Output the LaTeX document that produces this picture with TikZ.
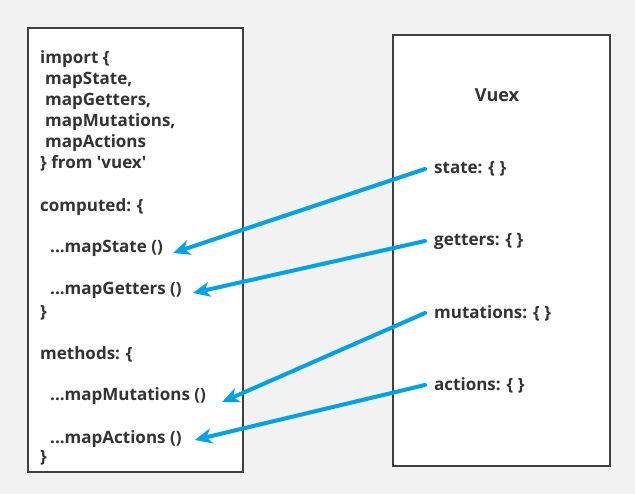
\documentclass[tikz,border=0pt]{standalone}
\usepackage{fontspec}
\setmainfont{Open Sans}
\usepackage{tikz}
\usetikzlibrary{arrows.meta,positioning,calc}
\definecolor{vxblue}{RGB}{0,162,232}
\definecolor{vxgray}{RGB}{242,242,242}
\definecolor{vxtext}{RGB}{51,51,51}
\definecolor{vxline}{RGB}{64,64,64}
\tikzset{
  panel/.style={draw=vxline, line width=2pt, fill=white},
  code/.style={anchor=west, inner sep=0pt, text=vxtext, font=\fontsize{17}{20}\selectfont\bfseries},
  arr/.style={-{Stealth[length=17pt,width=15pt,inset=5pt]}, vxblue, line width=4pt, line cap=round},
}

\begin{document}
\begin{tikzpicture}[x=1pt,y=-1pt]
  \useasboundingbox[fill=vxgray] (0,0) rectangle (635,494);
  % boxes
  \draw[panel] (28,28) rectangle (243,472);
  \draw[panel] (393,35) rectangle (610,466);
  % left: component code
  \node[code] (imp) at (40,59) {import \{};
  \node[code] (ims) at (45,80) {mapState,};
  \node[code] (img) at (45,101) {mapGetters,};
  \node[code] (imm) at (45,122) {mapMutations,};
  \node[code] (ima) at (45,143) {mapActions};
  \node[code] (frm) at (40,163) {\} from \textquotesingle vuex\textquotesingle};
  \node[code] (cmp) at (40,207) {computed: \{};
  \node[code] (mst) at (50,248) {...mapState ()};
  \node[code] (mgt) at (50,290) {...mapGetters ()};
  \node[code] (cend) at (40,313) {\}};
  \node[code] (mth) at (40,354) {methods: \{};
  \node[code] (mmu) at (50,396) {...mapMutations ()};
  \node[code] (mac) at (50,439) {...mapActions ()};
  \node[code] (mend) at (40,458) {\}};
  % right: store
  \node[code, anchor=center, font=\fontsize{18}{21}\selectfont\bfseries] (vx) at (497,95) {Vuex};
  \node[code] (st) at (434,169) {state: \{ \}};
  \node[code] (gt) at (434,241) {getters: \{ \}};
  \node[code] (mu) at (434,313) {mutations: \{ \}};
  \node[code] (ac) at (434,385) {actions: \{ \}};
  % arrows
  \draw[arr] ([xshift=-9pt]st.west) -- ([xshift=10pt,yshift=-5pt]mst.east);
  \draw[arr] ([xshift=-9pt]gt.west) -- ([xshift=11pt,yshift=-3pt]mgt.east);
  \draw[arr] ([xshift=-9pt]mu.west) -- ([xshift=16pt,yshift=-6pt]mmu.east);
  \draw[arr] ([xshift=-9pt]ac.west) -- ([xshift=13pt,yshift=-1pt]mac.east);
\end{tikzpicture}
\end{document}
